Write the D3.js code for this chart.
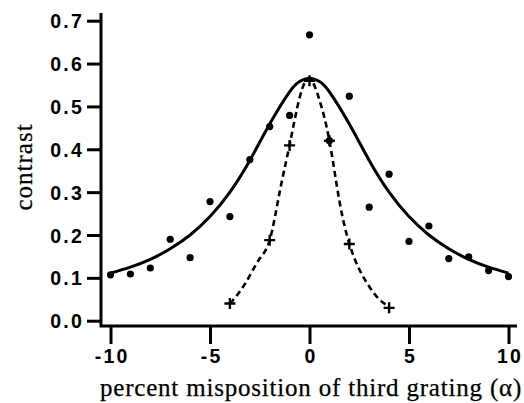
<!DOCTYPE html>
<html>
<head>
<meta charset="utf-8">
<script src="https://cdn.jsdelivr.net/npm/d3@7"></script>
<style>
  body { margin: 0; background: #fff; }
  svg { display: block; }
  .tick text { font-family: "Liberation Sans", Arial, sans-serif; font-weight: bold; font-size: 19.5px; letter-spacing: 2.2px; fill: #000; }
  .title { font-family: "Liberation Serif", "Times New Roman", serif; font-size: 25px; fill: #000; stroke: #000; stroke-width: 0.25px; }
</style>
</head>
<body>
<div id="chart"></div>
<script>
// measured points (filled dots)
const dotX = [-10, -9, -8, -7, -6, -5, -4, -3, -2, -1, 0, 1, 2, 3, 4, 5, 6, 7, 8, 9, 10]
const dotY = [0.107, 0.109, 0.123, 0.190, 0.147, 0.278, 0.243, 0.376, 0.453, 0.479, 0.667, 0.420, 0.524, 0.265, 0.342, 0.185, 0.221, 0.145, 0.149, 0.117, 0.103]

// measured points (crosses)
const crossX = [-4, -2, -1, 0, 1, 2, 4]
const crossY = [0.040, 0.188, 0.409, 0.560, 0.420, 0.179, 0.030]

// solid fitted curve
const fitX = [-10, -9, -8, -7, -6, -5, -4, -3, -2, -1, -0.5, 0, 0.5, 1, 2, 3, 4, 5, 6, 7, 8, 9, 10]
const fitY = [0.111, 0.125, 0.143, 0.168, 0.200, 0.243, 0.300, 0.374, 0.459, 0.534, 0.558, 0.566, 0.558, 0.534, 0.459, 0.374, 0.300, 0.243, 0.200, 0.168, 0.143, 0.125, 0.111]

// dashed curve
const dashX = [-4, -3.5, -3, -2.5, -2, -1.5, -1, -0.5, 0, 0.5, 1, 1.5, 2, 2.5, 3, 3.5, 4]
const dashY = [0.040, 0.068, 0.105, 0.145, 0.188, 0.300, 0.410, 0.520, 0.565, 0.515, 0.420, 0.280, 0.180, 0.120, 0.080, 0.050, 0.033]

const xTicks = [-10, -5, 0, 5, 10]
const yTicks = [0.0, 0.1, 0.2, 0.3, 0.4, 0.5, 0.6, 0.7]

const width = 524, height = 403

const svg = d3.select("#chart").append("svg")
    .attr("width", width).attr("height", height)

const x = d3.scaleLinear().domain([-10, 10]).range([110.5, 508.5])
const y = d3.scaleLinear().domain([0, 0.7]).range([320.7, 20.7])

const axisX0 = 101, axisY0 = 326

// y axis
const yAxis = svg.append("g")
    .attr("transform", "translate(" + axisX0 + ",0)")
    .call(d3.axisLeft(y).tickValues(yTicks).tickFormat(d => d.toFixed(1)).tickSize(14).tickPadding(3))
yAxis.select(".domain").remove()
yAxis.selectAll(".tick line").attr("stroke", "#000").attr("stroke-width", 3)
yAxis.selectAll(".tick text").attr("dy", "0.36em")

// x axis
const xAxis = svg.append("g")
    .attr("transform", "translate(0," + axisY0 + ")")
    .call(d3.axisBottom(x).tickValues(xTicks).tickFormat(d => String(d)).tickSize(18).tickPadding(5))
xAxis.select(".domain").remove()
xAxis.selectAll(".tick line").attr("stroke", "#000").attr("stroke-width", 3)
xAxis.selectAll(".tick text").attr("dx", "1.1px")

// axis lines
svg.append("path")
    .attr("d", "M" + axisX0 + ",13V" + axisY0 + "H517")
    .attr("fill", "none").attr("stroke", "#000").attr("stroke-width", 3)

const line = d3.line().x(d => x(d[0])).y(d => y(d[1])).curve(d3.curveNatural)

svg.append("path")
    .datum(fitX.map((v, i) => [v, fitY[i]]))
    .attr("d", line)
    .attr("fill", "none").attr("stroke", "#000").attr("stroke-width", 3)

svg.append("path")
    .datum(dashX.map((v, i) => [v, dashY[i]]))
    .attr("d", line)
    .attr("fill", "none").attr("stroke", "#000").attr("stroke-width", 2.6)
    .attr("stroke-dasharray", "6,4")

svg.append("g").selectAll("circle")
    .data(dotX.map((v, i) => [v, dotY[i]]))
    .enter().append("circle")
    .attr("cx", d => x(d[0]))
    .attr("cy", d => y(d[1]))
    .attr("r", 3.6)
    .attr("fill", "#000")

svg.append("g").selectAll("path")
    .data(crossX.map((v, i) => [v, crossY[i]]))
    .enter().append("path")
    .attr("d", d => {
        const cx = x(d[0]), cy = y(d[1])
        return "M" + (cx - 5.5) + "," + cy + "H" + (cx + 5.5) + "M" + cx + "," + (cy - 5.5) + "V" + (cy + 5.5)
    })
    .attr("stroke", "#000").attr("stroke-width", 2.4)

// titles
svg.append("text").attr("class", "title")
    .attr("x", 311).attr("y", 396)
    .attr("text-anchor", "middle")
    .style("letter-spacing", "0.8px")
    .text("percent misposition of third grating (α)")

svg.append("text").attr("class", "title")
    .attr("transform", "translate(32,167) rotate(-90)")
    .attr("text-anchor", "middle")
    .style("letter-spacing", "1px")
    .text("contrast")
</script>
</body>
</html>
